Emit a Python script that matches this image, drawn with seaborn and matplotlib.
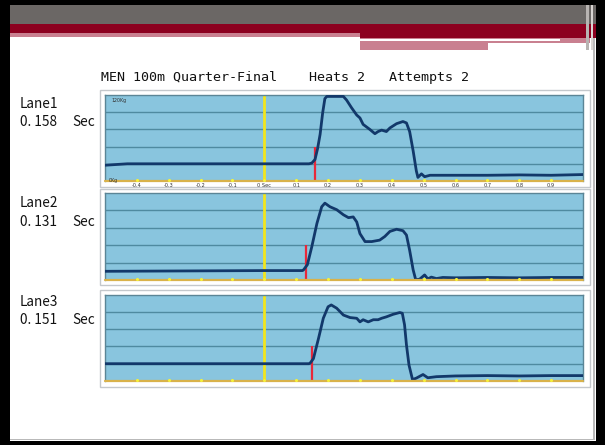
import matplotlib
matplotlib.use("Agg")
import matplotlib.pyplot as plt
from matplotlib.patches import Rectangle
import numpy as np
import pandas as pd
import seaborn as sns

# ---- data -------------------------------------------------------------
title_text = "MEN 100m Quarter-Final    Heats 2   Attempts 2"
lanes = ["Lane1", "Lane2", "Lane3"]
reaction_times = [0.158, 0.131, 0.151]

tick_values = [-0.4, -0.3, -0.2, -0.1, 0.0, 0.1, 0.2, 0.3, 0.4, 0.5, 0.6, 0.7, 0.8, 0.9]
tick_labels = ["-0.4", "-0.3", "-0.2", "-0.1", "0 Sec", "0.1", "0.2", "0.3",
               "0.4", "0.5", "0.6", "0.7", "0.8", "0.9"]

lane1_t = [-0.50, -0.43, 0.14, 0.149, 0.159, 0.167, 0.175, 0.183, 0.19, 0.196,
           0.248, 0.258, 0.274, 0.29, 0.30, 0.31, 0.331, 0.347, 0.357, 0.368,
           0.383, 0.394, 0.415, 0.435, 0.446, 0.456, 0.467, 0.477, 0.482, 0.493,
           0.503, 0.52, 0.6, 0.7, 0.8, 0.9, 1.0]
lane1_kg = [22, 24, 24, 25, 30, 45, 65, 95, 115, 118,
            118, 113, 102, 92, 88, 79, 72, 66, 69, 71,
            69, 74, 80, 83, 81, 69, 42, 14, 5, 10,
            6, 8, 8, 8, 8.5, 8, 9]

lane2_t = [-0.50, 0.0, 0.12, 0.123, 0.135, 0.149, 0.165, 0.18, 0.19, 0.206,
           0.227, 0.248, 0.264, 0.279, 0.29, 0.30, 0.316, 0.337, 0.362, 0.378,
           0.394, 0.415, 0.435, 0.446, 0.456, 0.467, 0.475, 0.487, 0.503, 0.513,
           0.524, 0.54, 0.56, 0.6, 0.7, 0.8, 0.9, 1.0]
lane2_kg = [12, 13, 13, 14, 21, 46, 78, 101, 106, 101,
            97, 90, 86, 87, 80, 64, 53, 53, 55, 60,
            67, 70, 68, 62, 41, 14, 0.5, 1, 7, 1.5,
            4, 2, 3.5, 3, 3.5, 3, 3.5, 3.5]

lane3_t = [-0.50, 0.14, 0.144, 0.154, 0.17, 0.185, 0.20, 0.21, 0.227, 0.248,
           0.269, 0.29, 0.30, 0.31, 0.326, 0.342, 0.357, 0.368, 0.383, 0.404,
           0.425, 0.433, 0.44, 0.446, 0.454, 0.465, 0.477, 0.498, 0.513, 0.54,
           0.6, 0.7, 0.8, 0.9, 1.0]
lane3_kg = [24, 24, 25, 31, 59, 87, 103, 105.5, 101, 91.5,
            88, 87, 82, 85, 82, 85, 85, 87, 89, 92.5,
            95, 94, 78, 50, 22, 2, 4, 9, 4.5, 6,
            7, 7.5, 7, 7.5, 7.5]

traces = pd.concat([
    pd.DataFrame({"lane": name, "t": t, "kg": kg})
    for name, t, kg in [("Lane1", lane1_t, lane1_kg),
                        ("Lane2", lane2_t, lane2_kg),
                        ("Lane3", lane3_t, lane3_kg)]
], ignore_index=True)

# ---- styling ----------------------------------------------------------
W, H = 605, 445
sns.set_style("white")
plt.rcParams["font.family"] = ["DejaVu Sans"]

fig = plt.figure(figsize=(W / 100, H / 100), dpi=100)
fig.patch.set_facecolor("black")


def frect(x0, y0, x1, y1, **kw):
    """Rectangle given in pixel coordinates measured from the top-left."""
    r = Rectangle((x0 / W, 1 - y1 / H), (x1 - x0) / W, (y1 - y0) / H,
                  transform=fig.transFigure, **kw)
    fig.patches.append(r)
    return r


# slide body and header bars
frect(10, 5, 596, 441, facecolor="white", edgecolor="none", zorder=0)
frect(593, 5, 595, 440, facecolor="#b9b9b9", edgecolor="none", zorder=0.5)
frect(10, 439, 595, 440, facecolor="#b9b9b9", edgecolor="none", zorder=0.5)
frect(10, 5, 596, 24, facecolor="#6b6765", edgecolor="none", zorder=1)
frect(10, 24, 596, 33, facecolor="#8c001f", edgecolor="none", zorder=1)
frect(10, 33, 360, 37, facecolor="#c98090", edgecolor="none", zorder=1)
frect(360, 33, 596, 38, facecolor="#8c001f", edgecolor="none", zorder=1)
frect(360, 38, 590, 43, facecolor="#c98090", edgecolor="none", zorder=1)
frect(360, 39, 560, 41, facecolor="white", edgecolor="none", zorder=2)
frect(360, 43, 488, 50, facecolor="#c98090", edgecolor="none", zorder=1)
frect(586, 5, 589, 50, facecolor="#b8b4b2", edgecolor="none", zorder=3)
frect(591, 5, 593, 50, facecolor="#d8d4d2", edgecolor="none", zorder=3)

fig.text(101 / W, 1 - 78 / H, title_text, family="DejaVu Sans Mono",
         fontsize=9.6, color="#111111", va="center", ha="left")

# panel geometry in pixels: (top, bottom) of plotting area and outer frame
panels = [(95, 181, 90, 187), (193, 280, 189, 285), (294.5, 381, 290, 387)]
label_rows = [(104, 122), (203, 222), (302, 320)]
x_left, x_right = 105, 583

face = "#89c5de"
grid_c = "#4f8aa0"
trace_c = "#12386a"
label_font = ["Noto Sans CJK JP", "DejaVu Sans"]

for i, (lane, rt) in enumerate(zip(lanes, reaction_times)):
    top, bot, ftop, fbot = panels[i]
    frect(100, ftop, 590, fbot, facecolor="white", edgecolor="#c4c8cc",
          linewidth=1.0, zorder=2)
    ax = fig.add_axes([x_left / W, 1 - bot / H, (x_right - x_left) / W,
                       (bot - top) / H], zorder=5)
    ax.set_facecolor(face)
    ax.set_xlim(-0.5, 1.0)
    ax.set_ylim(0, 120)
    for g in [24, 48, 72, 96]:
        ax.axhline(g, color=grid_c, lw=1.0, zorder=1)
    ax.axvline(0.0, color="#f2e51e", lw=2.0, zorder=2)
    sns.lineplot(data=traces[traces["lane"] == lane], x="t", y="kg", ax=ax,
                 color=trace_c, lw=2.0, zorder=4, estimator=None, sort=False)
    ax.vlines(rt, 0, 48, color="#e8283a", lw=1.6, zorder=3)
    # bottom axis line with yellow tick dots
    ax.axhline(0.6, color="#d9b24a", lw=1.6, zorder=5, clip_on=False)
    ax.scatter(tick_values, [1.2] * len(tick_values), s=5, color="#f4f03a",
               zorder=6, clip_on=False, linewidths=0)
    ax.set_xticks([])
    ax.set_yticks([])
    ax.set_xlabel("")
    ax.set_ylabel("")
    for s in ax.spines.values():
        s.set_color("#5b8596")
        s.set_linewidth(1.0)
    ax.spines["bottom"].set_visible(False)
    if i == 0:
        for v, lab in zip(tick_values, tick_labels):
            ax.text(v, -2.5, lab, fontsize=3.6, color="#333333",
                    ha="center", va="top", clip_on=False, zorder=7)
        ax.text(-0.48, 116, "120Kg", fontsize=3.4, color="#333333",
                ha="left", va="top", zorder=7)
        ax.text(-0.487, 0.5, "0Kg", fontsize=3.4, color="#333333",
                ha="left", va="center", zorder=7)

    y1, y2 = label_rows[i]
    fig.text(20 / W, 1 - y1 / H, lane, fontsize=9.8, color="#111111",
             va="center", ha="left", family=label_font)
    fig.text(20 / W, 1 - y2 / H, f"{rt:.3f}".replace(".", ". "), fontsize=9.8,
             color="#111111", va="center", ha="left", family=label_font)
    fig.text(72 / W, 1 - y2 / H, "Sec", fontsize=9.8, color="#111111",
             va="center", ha="left", family=label_font)

fig.savefig("out.png", dpi=100, facecolor=fig.get_facecolor())
